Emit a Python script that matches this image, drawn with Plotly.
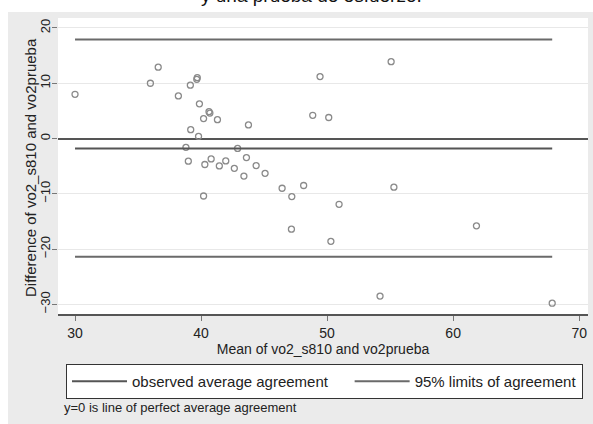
import plotly.graph_objects as go

# Bland-Altman data
mean_vals = [30.0, 35.98, 36.6, 38.2, 39.15, 39.66, 39.7, 39.87, 40.2, 40.63, 40.7,
             41.3, 43.76, 39.18, 39.8, 38.8, 38.99, 40.3, 40.8, 41.45, 41.96, 42.64,
             42.9, 43.4, 43.6, 44.37, 45.08, 46.43, 47.2, 47.17, 40.2, 55.08, 49.44,
             48.86, 50.13, 48.14, 55.3, 50.95, 61.85, 50.3, 54.2, 67.86]
diff_vals = [8.0, 10.0, 12.9, 7.7, 9.65, 10.7, 11.0, 6.27, 3.6, 4.85, 4.6,
             3.4, 2.46, 1.6, 0.4, -1.6, -4.1, -4.7, -3.7, -4.96, -4.05, -5.4,
             -1.8, -6.8, -3.45, -4.9, -6.3, -9.0, -10.5, -16.4, -10.4, 13.9, 11.2,
             4.2, 3.8, -8.5, -8.8, -11.9, -15.8, -18.6, -28.5, -29.8]
bias = -1.8
upper_loa = 17.9
lower_loa = -21.4
x_ticks = [30, 40, 50, 60, 70]
y_ticks = [-30, -20, -10, 0, 10, 20]

FONT = "Liberation Sans, Arial, sans-serif"
xmin, xmax = min(mean_vals), max(mean_vals)
PAD = "\u00a0" * 4

fig = go.Figure()
fig.add_trace(go.Scatter(
    x=mean_vals, y=diff_vals, mode="markers", showlegend=False,
    marker=dict(symbol="circle-open", size=6, color="#8a8a8a", line=dict(width=1.3, color="#8a8a8a")),
))
fig.add_trace(go.Scatter(
    x=[xmin, xmax], y=[bias, bias], mode="lines", name="observed average agreement" + PAD,
    line=dict(color="#555555", width=2),
))
fig.add_trace(go.Scatter(
    x=[xmin, xmax, None, xmin, xmax], y=[upper_loa, upper_loa, None, lower_loa, lower_loa],
    mode="lines", name="95% limits of agreement",
    line=dict(color="#6a6a6a", width=2),
))

W, H = 593, 424
L, R, T, B = 58, 5, 18, 110
pw, ph = W - L - R, H - T - B

def px(xp):
    return (xp - L) / pw

def py(yp):
    return (H - B - yp) / ph

shapes = [
    # white strips outside the grey graph region
    dict(type="rect", xref="paper", yref="paper", x0=px(-5), x1=px(8), y0=py(430), y1=py(-5),
         fillcolor="white", line=dict(width=0), layer="below"),
    dict(type="rect", xref="paper", yref="paper", x0=px(-5), x1=px(600), y0=py(12), y1=py(-5),
         fillcolor="white", line=dict(width=0), layer="below"),
]

fig.update_layout(
    width=W, height=H,
    margin=dict(l=L, r=R, t=T, b=B, pad=0),
    paper_bgcolor="#ebebeb", plot_bgcolor="white",
    font=dict(family=FONT, size=14, color="#222222"),
    shapes=shapes,
    xaxis=dict(
        range=[28.65, 70.7], tickvals=x_ticks, showgrid=False, zeroline=False,
        showline=True, linecolor="#555555", linewidth=1.5,
        ticks="outside", ticklen=5, tickcolor="#777777",
        tickfont=dict(size=14),
        title=dict(text="Mean of vo2_s810 and vo2prueba", font=dict(size=14), standoff=3),
    ),
    yaxis=dict(
        range=[-31.75, 21.8], tickvals=y_ticks, tickangle=-90,
        showgrid=True, gridcolor="#e8e8e8", gridwidth=1,
        zeroline=True, zerolinecolor="#555555", zerolinewidth=1.5,
        showline=False, ticks="outside", ticklen=5, tickcolor="#777777",
        tickfont=dict(size=13), ticklabelstandoff=-3,
    ),
    legend=dict(
        orientation="h", xref="container", yref="container",
        x=66 / W, y=1 - 364 / H, xanchor="left", yanchor="top",
        bgcolor="white", bordercolor="#333333", borderwidth=1,
        font=dict(size=15), itemwidth=55,
    ),
    annotations=[
        dict(text="Difference of vo2_s810 and vo2prueba", xref="paper", yref="paper",
             x=px(30), y=py(168), xanchor="center", yanchor="middle", textangle=-90,
             showarrow=False, font=dict(size=15, color="#222222")),
        dict(text="y=0 is line of perfect average agreement", xref="paper", yref="paper",
             x=px(62), y=py(407), xanchor="left", yanchor="middle", showarrow=False,
             font=dict(size=13, color="#222222")),
        dict(text="y una prueba de esfuerzo.", xref="paper", yref="paper",
             x=px(311), y=py(-5), xanchor="center", yanchor="middle", showarrow=False,
             font=dict(size=19, color="#111111")),
    ],
)

fig.write_html("out.html")
